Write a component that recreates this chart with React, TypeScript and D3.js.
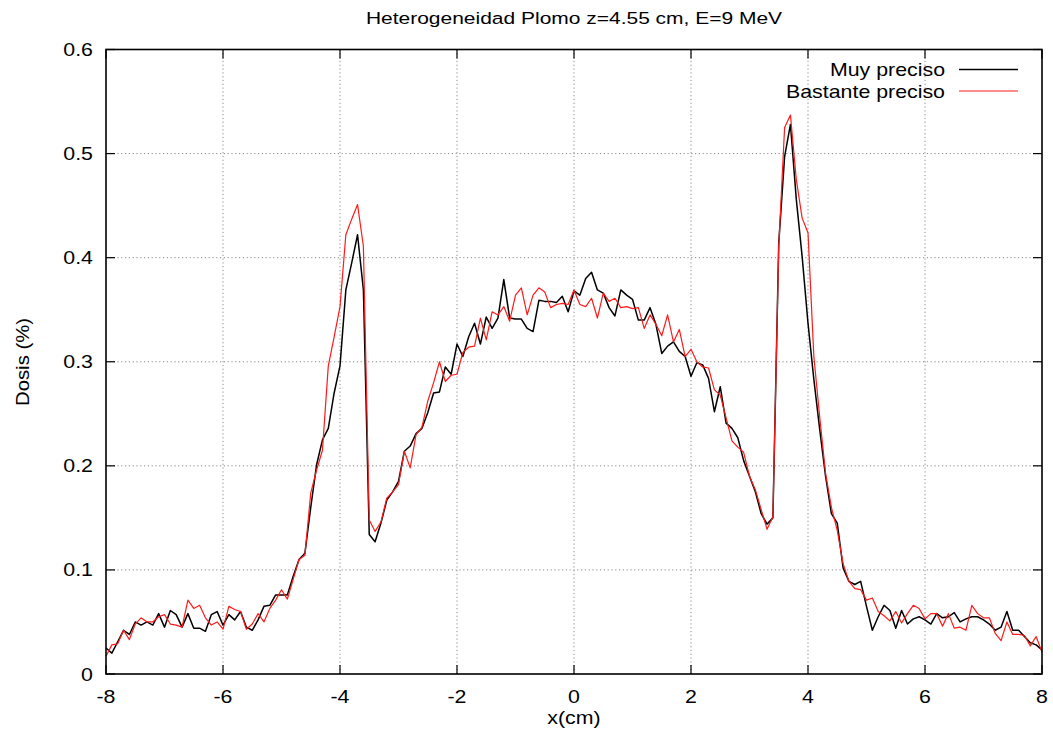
import React from "react";
import * as d3 from "d3";

// Sample grid: x from -8 cm to 8 cm in steps of 0.1 cm (161 samples)
const xStart = -8;
const xStep = 0.1;

// "Muy preciso" (black)
const muyPreciso = [
  0.025, 0.020, 0.031, 0.042, 0.038, 0.050, 0.047, 0.050, 0.047, 0.058,
  0.045, 0.061, 0.057, 0.045, 0.058, 0.044, 0.044, 0.041, 0.057, 0.060,
  0.047, 0.057, 0.052, 0.060, 0.045, 0.042, 0.052, 0.065, 0.066, 0.076,
  0.076, 0.076, 0.094, 0.110, 0.116, 0.160, 0.201, 0.225, 0.236, 0.270,
  0.296, 0.369, 0.395, 0.422, 0.369, 0.134, 0.127, 0.145, 0.167, 0.175,
  0.185, 0.214, 0.219, 0.231, 0.236, 0.251, 0.270, 0.271, 0.295, 0.288,
  0.317, 0.305, 0.324, 0.337, 0.317, 0.343, 0.332, 0.342, 0.379, 0.342,
  0.341, 0.341, 0.332, 0.329, 0.359, 0.358, 0.358, 0.357, 0.363, 0.348,
  0.368, 0.364, 0.380, 0.386, 0.369, 0.366, 0.352, 0.344, 0.369, 0.364,
  0.360, 0.340, 0.340, 0.352, 0.336, 0.308, 0.315, 0.319, 0.310, 0.305,
  0.286, 0.299, 0.297, 0.284, 0.252, 0.276, 0.241, 0.236, 0.227, 0.205,
  0.190, 0.175, 0.154, 0.144, 0.150, 0.414, 0.497, 0.528, 0.456, 0.401,
  0.337, 0.283, 0.235, 0.190, 0.154, 0.145, 0.102, 0.089, 0.086, 0.089,
  0.065, 0.042, 0.055, 0.066, 0.061, 0.044, 0.061, 0.048, 0.053, 0.055,
  0.052, 0.048, 0.058, 0.054, 0.055, 0.059, 0.050, 0.053, 0.055, 0.055,
  0.052, 0.048, 0.042, 0.045, 0.060, 0.042, 0.042, 0.036, 0.030, 0.028,
  0.023,
];

// "Bastante preciso" (red)
const bastantePreciso = [
  0.017, 0.028, 0.029, 0.042, 0.033, 0.048, 0.054, 0.050, 0.050, 0.055,
  0.057, 0.048, 0.047, 0.045, 0.071, 0.063, 0.066, 0.054, 0.047, 0.050,
  0.043, 0.065, 0.062, 0.060, 0.043, 0.048, 0.058, 0.050, 0.063, 0.071,
  0.081, 0.072, 0.091, 0.110, 0.114, 0.174, 0.196, 0.215, 0.296, 0.324,
  0.353, 0.422, 0.437, 0.451, 0.411, 0.148, 0.137, 0.146, 0.169, 0.175,
  0.182, 0.214, 0.198, 0.230, 0.237, 0.262, 0.280, 0.300, 0.281, 0.287,
  0.288, 0.309, 0.314, 0.315, 0.342, 0.321, 0.348, 0.345, 0.353, 0.339,
  0.364, 0.371, 0.345, 0.364, 0.371, 0.367, 0.352, 0.355, 0.356, 0.355,
  0.369, 0.355, 0.353, 0.361, 0.342, 0.366, 0.358, 0.361, 0.352, 0.353,
  0.351, 0.352, 0.332, 0.345, 0.336, 0.325, 0.345, 0.319, 0.331, 0.305,
  0.312, 0.300, 0.295, 0.294, 0.273, 0.268, 0.246, 0.224, 0.218, 0.213,
  0.190, 0.177, 0.158, 0.139, 0.151, 0.411, 0.525, 0.537, 0.475, 0.438,
  0.424, 0.305, 0.247, 0.193, 0.160, 0.138, 0.106, 0.089, 0.082, 0.081,
  0.071, 0.073, 0.060, 0.056, 0.051, 0.060, 0.049, 0.058, 0.066, 0.063,
  0.053, 0.058, 0.058, 0.046, 0.058, 0.044, 0.045, 0.042, 0.066, 0.058,
  0.054, 0.054, 0.039, 0.032, 0.050, 0.038, 0.038, 0.037, 0.027, 0.036,
  0.021,
];

const xTicks = [-8, -6, -4, -2, 0, 2, 4, 6, 8];
const yTicks = [0, 0.1, 0.2, 0.3, 0.4, 0.5, 0.6];
const seriesNames = ["Muy preciso", "Bastante preciso"];
const seriesColors = ["#000000", "#ff1a1a"];

const W = 1053;
const H = 743;
const M = { left: 106, right: 1042, top: 49.5, bottom: 674 };
const FONT = "'Liberation Sans', Arial, Helvetica, sans-serif";
const SX = 1.22; // horizontal glyph stretch of the reference

function T(props: {
  x: number;
  y: number;
  anchor?: string;
  size?: number;
  rotate?: number;
  stretch?: number;
  children: React.ReactNode;
}) {
  const { x, y, anchor = "start", size = 17.5, rotate = 0, stretch = SX, children } = props;
  return (
    <text
      transform={`translate(${x},${y}) rotate(${rotate}) scale(${stretch},1)`}
      textAnchor={anchor}
      fontFamily={FONT}
      fontSize={size}
      fill="#000"
    >
      {children}
    </text>
  );
}

export default function App() {
  const x = d3.scaleLinear().domain([-8, 8]).range([M.left, M.right]);
  const y = d3.scaleLinear().domain([0, 0.6]).range([M.bottom, M.top]);
  const line = d3
    .line<number>()
    .x((_, i) => x(xStart + i * xStep))
    .y((d) => y(d));
  const series = [muyPreciso, bastantePreciso];
  const tick = 9;

  return (
    <svg
      width={W}
      height={H}
      style={{ position: "absolute", left: 0, top: 0, background: "#fff" }}
    >
      <rect x={0} y={0} width={W} height={H} fill="#fff" />
      {/* grid */}
      <g stroke="#8a8a8a" strokeWidth={1} strokeDasharray="1.2,2.6">
        {xTicks.slice(1, -1).map((t) => (
          <line key={"gx" + t} x1={x(t)} x2={x(t)} y1={M.top} y2={M.bottom} />
        ))}
        {yTicks.slice(1, -1).map((t) => (
          <line key={"gy" + t} x1={M.left} x2={M.right} y1={y(t)} y2={y(t)} />
        ))}
      </g>
      {/* ticks (mirrored, inward) */}
      <g stroke="#000" strokeWidth={1.2}>
        {xTicks.map((t) => (
          <g key={"tx" + t}>
            <line x1={x(t)} x2={x(t)} y1={M.bottom} y2={M.bottom - tick} />
            <line x1={x(t)} x2={x(t)} y1={M.top} y2={M.top + tick} />
          </g>
        ))}
        {yTicks.map((t) => (
          <g key={"ty" + t}>
            <line x1={M.left} x2={M.left + tick} y1={y(t)} y2={y(t)} />
            <line x1={M.right} x2={M.right - tick} y1={y(t)} y2={y(t)} />
          </g>
        ))}
      </g>
      {/* data */}
      {series.map((s, k) => (
        <path
          key={"s" + k}
          d={line(s) || ""}
          fill="none"
          stroke={seriesColors[k]}
          strokeWidth={k === 0 ? 1.5 : 1.2}
          strokeLinejoin="round"
        />
      ))}
      {/* frame */}
      <rect
        x={M.left}
        y={M.top}
        width={M.right - M.left}
        height={M.bottom - M.top}
        fill="none"
        stroke="#000"
        strokeWidth={1.6}
      />
      {/* tick labels */}
      {xTicks.map((t) => (
        <T key={"lx" + t} x={x(t)} y={703} anchor="middle">
          {String(t)}
        </T>
      ))}
      {yTicks.map((t) => (
        <T key={"ly" + t} x={93} y={y(t) + 6.5} anchor="end">
          {d3.format("")(+t.toFixed(1))}
        </T>
      ))}
      {/* titles */}
      <T x={(M.left + M.right) / 2} y={24} anchor="middle" size={17.2}>
        Heterogeneidad Plomo z=4.55 cm, E=9 MeV
      </T>
      <T x={(M.left + M.right) / 2} y={724} anchor="middle">
        x(cm)
      </T>
      <T x={29} y={362} anchor="middle" rotate={-90} stretch={1.16}>
        Dosis (%)
      </T>
      {/* legend */}
      {seriesNames.map((n, k) => (
        <g key={"lg" + k}>
          <T x={945} y={76 + k * 21.5} anchor="end">
            {n}
          </T>
          <line
            x1={959}
            x2={1018}
            y1={69.5 + k * 21.5}
            y2={69.5 + k * 21.5}
            stroke={seriesColors[k]}
            strokeWidth={k === 0 ? 1.5 : 1.2}
          />
        </g>
      ))}
    </svg>
  );
}
